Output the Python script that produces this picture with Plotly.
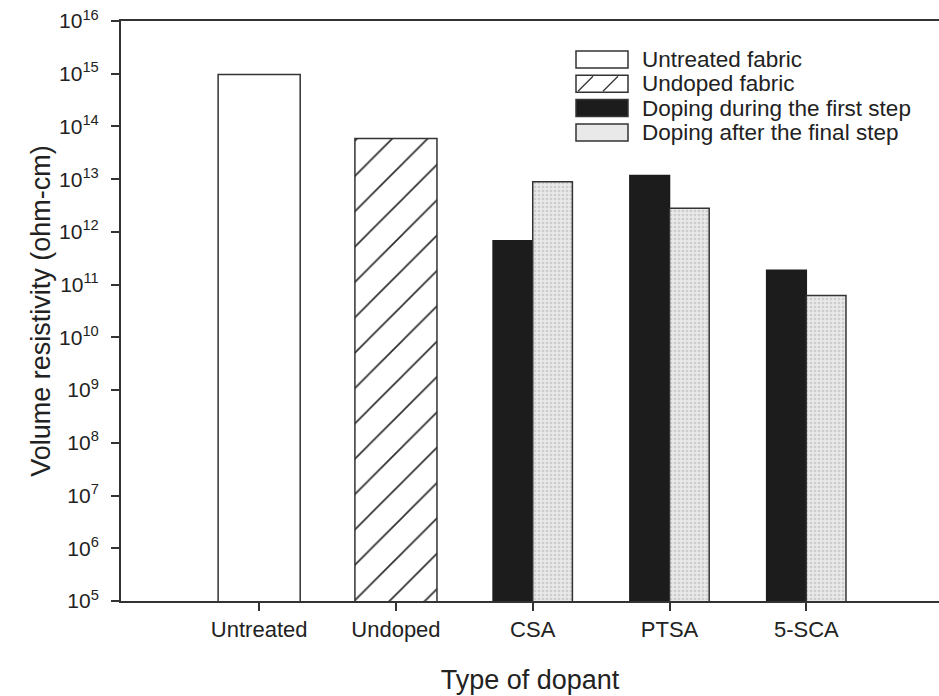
import plotly.graph_objects as go

# ---- data ----
categories = ["Untreated", "Undoped", "CSA", "PTSA", "5-SCA"]
untreated_cat = ["Untreated"]
untreated_val = [9.7e14]
undoped_cat = ["Undoped"]
undoped_val = [5.9e13]
dopants = ["CSA", "PTSA", "5-SCA"]
first_step = [6.8e11, 1.17e13, 1.87e11]
final_step = [8.9e12, 2.8e12, 6.2e10]
tick_exponents = list(range(5, 17))
legend_labels = ["Untreated fabric", "Undoped fabric",
                 "Doping during the first step", "Doping after the final step"]

FONT = "Arial, Liberation Sans, Helvetica, sans-serif"
INK = "#222222"
EDGE = "#333333"
GRAY_BG = "#e9e9e9"

W, H = 939, 696
ML, MR, MT, MB = 121, 0, 21, 95
PW, PH = W - ML - MR, H - MT - MB


def px_x(p):
    return (p - ML) / PW


def px_y(p):
    return (H - MB - p) / PH


fig = go.Figure()

fig.add_trace(go.Bar(
    x=untreated_cat, y=untreated_val, width=0.6, offset=-0.3,
    marker=dict(color="white", line=dict(color=EDGE, width=1.5)),
    name=legend_labels[0], showlegend=False))

fig.add_trace(go.Bar(
    x=undoped_cat, y=undoped_val, width=0.6, offset=-0.3,
    marker=dict(color="white", line=dict(color=EDGE, width=1.5),
                pattern=dict(shape="/", fgcolor="#2a2a2a", fgopacity=1,
                             bgcolor="white", size=25, solidity=0.065)),
    name=legend_labels[1], showlegend=False))

fig.add_trace(go.Bar(
    x=dopants, y=first_step, width=0.29, offset=-0.29,
    marker=dict(color="#1c1c1c", line=dict(color="#1c1c1c", width=1.5)),
    name=legend_labels[2], showlegend=False))

fig.add_trace(go.Bar(
    x=dopants, y=final_step, width=0.29, offset=0.0,
    marker=dict(color=GRAY_BG, line=dict(color=EDGE, width=1.5),
                pattern=dict(shape=".", fgcolor="#cdcdcd", fgopacity=1,
                             bgcolor=GRAY_BG, size=4, solidity=0.35)),
    name=legend_labels[3], showlegend=False))

# ---- custom legend (wide key boxes like the reference) ----
shapes = []
annotations = []
key_x0, key_x1 = 576, 628
row_top0, row_h, pitch = 51, 17, 24.3
key_fills = ["white", "white", "#1c1c1c", GRAY_BG]
for i, lab in enumerate(legend_labels):
    y0 = row_top0 + i * pitch
    y1 = y0 + row_h
    shapes.append(dict(type="rect", xref="paper", yref="paper",
                       x0=px_x(key_x0), x1=px_x(key_x1), y0=px_y(y1), y1=px_y(y0),
                       fillcolor=key_fills[i], line=dict(color=EDGE, width=1.5)))
    if i == 1:
        for sx in (578, 603):
            shapes.append(dict(type="line", xref="paper", yref="paper",
                               x0=px_x(sx), y0=px_y(y1 - 1),
                               x1=px_x(sx + 15), y1=px_y(y0 + 1),
                               line=dict(color=EDGE, width=1.3)))
    annotations.append(dict(text=lab, xref="paper", yref="paper",
                            x=px_x(640), y=px_y((y0 + y1) / 2),
                            xanchor="left", yanchor="middle", showarrow=False,
                            font=dict(family=FONT, size=22.5, color=INK)))

fig.update_layout(
    width=W, height=H,
    margin=dict(l=ML, r=MR, t=MT, b=MB),
    plot_bgcolor="white", paper_bgcolor="white",
    barmode="overlay",
    font=dict(family=FONT, color=INK),
    shapes=shapes, annotations=annotations,
    showlegend=False,
    xaxis=dict(
        type="category", categoryorder="array", categoryarray=categories,
        range=[-1.01, 4.97],
        showline=True, linecolor=EDGE, linewidth=2, mirror=True,
        ticks="outside", ticklen=8, tickwidth=2, tickcolor=EDGE,
        showgrid=False, zeroline=False,
        tickfont=dict(family=FONT, size=22, color=INK),
        title=dict(text="Type of dopant", standoff=29,
                   font=dict(family=FONT, size=27, color=INK)),
    ),
    yaxis=dict(
        type="log", range=[5, 16],
        tickvals=[10 ** k for k in tick_exponents],
        ticktext=[f"10<sup>{k}</sup>" for k in tick_exponents],
        showline=True, linecolor=EDGE, linewidth=2, mirror=False,
        ticks="outside", ticklen=8, tickwidth=2, tickcolor=EDGE,
        ticklabelstandoff=8,
        showgrid=False, zeroline=False,
        tickfont=dict(family=FONT, size=21, color=INK),
        title=dict(text="Volume resistivity (ohm-cm)", standoff=1,
                   font=dict(family=FONT, size=27, color=INK)),
    ),
)

fig.write_html("out.html")
